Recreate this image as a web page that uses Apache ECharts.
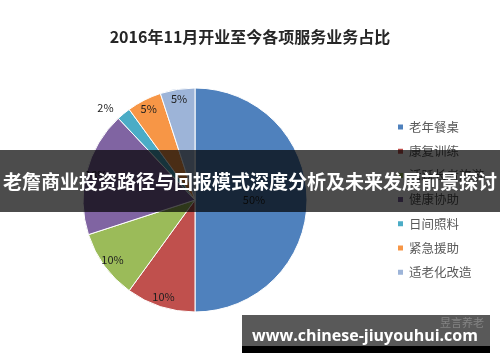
<!DOCTYPE html>
<html>
<head>
<meta charset="utf-8">
<script src="https://cdn.jsdelivr.net/npm/echarts@6/dist/echarts.min.js"></script>
<style>
html,body{margin:0;padding:0;background:#fff;}
#chart{width:500px;height:362px;}
</style>
</head>
<body>
<div id="chart"></div>
<script>
var categories = ['老年餐桌', '康复训练', '活跃长者旅游', '健康协助', '日间照料', '紧急援助', '适老化改造'];
var shares = [50, 10, 10, 18, 2, 5, 5];
var sliceColors = ['#4F81BD', '#C0504D', '#9BBB59', '#8064A2', '#4BACC6', '#F79646', '#9DB4D8'];
var titleText = '2016年11月开业至今各项服务业务占比';
var bannerText = '老詹商业投资路径与回报模式深度分析及未来发展前景探讨';
var siteText = 'www.chinese-jiuyouhui.com';
var logoText = '昱言养老';

var FONT = '"Noto Sans CJK SC", "Noto Sans", sans-serif';

var mainData = categories.map(function (n, i) {
  return {
    name: n, value: shares[i],
    itemStyle: { color: sliceColors[i] },
    label: { show: i === 0 }
  };
});
var labelData = categories.map(function (n, i) {
  var item = { name: n, value: shares[i], label: { show: i !== 0 } };
  if (i === 4) {
    item.label = { show: true, position: 'outside' };
    item.labelLine = { show: false, length: 8, length2: 0 };
  }
  return item;
});

var chart = echarts.init(document.getElementById('chart'), null, { renderer: 'canvas' });
chart.setOption({
  animation: false,
  backgroundColor: '#ffffff',
  title: {
    text: titleText,
    left: 'center',
    top: 29,
    padding: 0,
    textStyle: { fontFamily: FONT, fontSize: 16, fontWeight: 'bold', color: '#262626' }
  },
  legend: {
    orient: 'vertical',
    left: 396,
    top: 120,
    padding: 0,
    itemWidth: 7,
    itemHeight: 7,
    itemGap: 10.2,
    icon: 'rect',
    data: categories,
    textStyle: { fontFamily: FONT, fontSize: 12.5, color: '#595959', lineHeight: 14 }
  },
  series: [
    {
      type: 'pie',
      center: [195, 200],
      radius: [0, 112],
      startAngle: 90,
      clockwise: true,
      silent: true,
      itemStyle: { borderColor: '#ffffff', borderWidth: 1 },
      label: { position: 'inside', formatter: '{c}%', fontFamily: FONT, fontSize: 11, color: '#1f1f1f' },
      labelLine: { show: false },
      emphasis: { disabled: true },
      data: mainData
    },
    {
      type: 'pie',
      center: [195, 200],
      radius: [86, 112],
      startAngle: 90,
      clockwise: true,
      silent: true,
      itemStyle: { color: 'transparent', borderWidth: 0 },
      label: { position: 'inside', formatter: '{c}%', fontFamily: FONT, fontSize: 11, color: '#1f1f1f' },
      labelLine: { show: false },
      emphasis: { disabled: true },
      data: labelData
    }
  ],
  graphic: [
    { type: 'rect', shape: { x: 0, y: 150, width: 500, height: 62 }, style: { fill: 'rgba(0,0,0,0.7)' }, z: 100 },
    { type: 'text', x: 250, y: 182, z: 101,
      style: { text: bannerText, fill: '#ffffff', font: 'bold 19px ' + FONT, textAlign: 'center', textVerticalAlign: 'middle' } },
    { type: 'rect', shape: { x: 242, y: 315, width: 248, height: 31 }, style: { fill: 'rgba(0,0,0,0.65)' }, z: 100 },
    { type: 'rect', shape: { x: 242, y: 346, width: 248, height: 7 }, style: { fill: '#000000' }, z: 100 },
    { type: 'text', x: 462, y: 323, z: 101,
      style: { text: logoText, fill: 'rgba(255,255,255,0.25)', font: '11px ' + FONT, textAlign: 'center', textVerticalAlign: 'middle' } },
    { type: 'text', x: 365, y: 336, z: 101,
      style: { text: siteText, fill: '#ffffff', font: 'bold 16px "Open Sans", "Noto Sans", sans-serif', textAlign: 'center', textVerticalAlign: 'middle' } }
  ]
});
</script>
</body>
</html>
